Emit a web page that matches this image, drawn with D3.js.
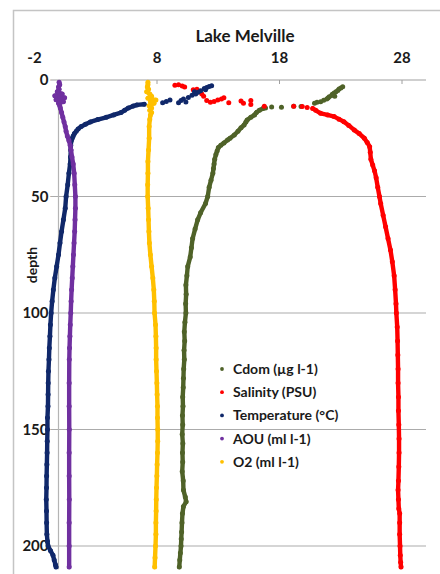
<!DOCTYPE html>
<html>
<head>
<meta charset="utf-8">
<script src="https://cdn.jsdelivr.net/npm/d3@7"></script>
<style>
  body { margin: 0; background: #fff; }
  text { font-family: Lato, "Open Sans", sans-serif; font-weight: bold; fill: #1a1a1a; }
</style>
</head>
<body>
<svg id="chart" width="440" height="574"></svg>
<script>
// values: [depth (m), value]
const xTicks = [-2, 8, 18, 28];
const depthTicks = [0, 50, 100, 150, 200];
const seriesNames = ["Cdom (µg l-1)", "Salinity (PSU)", "Temperature (°C)", "AOU (ml l-1)", "O2 (ml l-1)"];
const seriesColors = ["#4f6228", "#ff0000", "#10286a", "#7030a0", "#ffc000"];

const cdomDots = [[2.9,23.2],[3.4,23.05],[3.9,22.9],[4.5,22.8],[5.0,22.65],[5.6,22.5],[6.1,22.35],[7.0,22.55],
  [6.7,22.3],[7.2,22.1],[7.7,22.0],[8.2,21.9],[8.7,21.65],[9.3,21.4],[9.6,21.1],[10.0,20.9],
  [11.4,19.8],[11.3,19.2],[11.7,18.2],[11.6,17.4],[12.0,16.9]];
const cdomLine = [[12.2,16.7],[13,16.4],[14,16.15],[15,16.0],[16,15.7],[17.2,15.4],[18,15.3],[19.3,15.15],
  [20.5,14.9],[22,14.65],[23.6,14.35],[25,14.0],[25.8,13.8],[27,13.5],[28,13.25],[29,13.05],[30.5,12.95],
  [32,12.85],[34,12.75],[36,12.7],[38,12.65],[40,12.6],[43,12.45],[46,12.3],[50,12.18],[53,12.0],[57,11.6],
  [60,11.36],[64,11.15],[68,10.95],[72,10.85],[76,10.75],[80,10.55],[84,10.48],[88,10.4],[92,10.42],[96,10.38],
  [100,10.4],[104,10.32],[108,10.27],[112,10.3],[116,10.25],[120,10.27],[124,10.22],[128,10.2],[132,10.18],
  [136,10.14],[140,10.16],[144,10.12],[148,10.14],[152,10.1],[156,10.15],[160,10.12],[164,10.14],[168,10.1],
  [172,10.18],[176,10.2],[179,10.35],[181,10.42],[183,10.2],[186,10.12],[190,10.08],[194,10.05],[197,10.02],
  [200,10.0],[203,9.95],[206,9.9],[209,9.86]];

const salinityDots = [[2.2,9.5],[2.0,9.8],[2.6,10.1],[3.0,10.3],[4.2,11.0],[4.0,11.3],[5.0,11.4],[6.0,11.7],
  [7.0,11.85],[8.8,12.1],[9.6,12.4],[9.2,12.7],[8.6,13.0],[8.2,13.3],[7.6,13.5],[9.8,13.9],[9.0,14.9],
  [10.0,15.1],[8.8,15.7],[10.5,15.7],[11.3,16.8],[11.3,19.2],[11.4,19.9],[11.8,20.3]];
const salinityLine = [[12.2,20.75],[13,21.0],[14.3,21.4],[15,21.97],[15.7,22.5],[16.8,22.9],[17.9,23.3],
  [19.5,23.7],[21.5,24.15],[23,24.55],[25,24.97],[26.8,25.2],[28.6,25.4],[31,25.45],[34,25.5],[36.5,25.65],
  [39,25.8],[42,25.93],[46,26.06],[50,26.2],[53,26.3],[58,26.5],[63,26.7],[68,26.9],[73,27.1],[78,27.25],
  [84,27.4],[90,27.48],[96,27.55],[100,27.58],[106,27.65],[112,27.68],[118,27.7],[124,27.72],[130,27.72],
  [136,27.75],[142,27.75],[148,27.78],[154,27.8],[160,27.8],[166,27.78],[172,27.75],[176,27.72],[180,27.75],
  [184,27.78],[186,27.85],[190,27.85],[195,27.85],[200,27.88],[204,27.9],[207,27.93],[209,27.96]];

const tempDots = [[2.5,12.5],[2.8,12.3],[3.2,12.1],[3.6,11.9],[4.2,12.0],[4.6,11.6],[5.3,11.4],[5.0,11.1],
  [6.0,11.2],[6.5,10.9],[7.5,10.6],[8.2,10.2],[8.8,10.0],[9.4,10.4],[9.8,9.8],[8.6,9.1],[9.2,8.8],[9.8,8.5]];
const tempLine = [[10.4,7.0],[10.7,6.4],[11.2,6.1],[12,5.7],[13,5.4],[14,5.1],[15,4.5],[16,3.9],[17,3.2],
  [18,2.6],[19,2.2],[20,1.85],[21,1.6],[22,1.45],[23,1.3],[24,1.2],[25,1.12],[26,1.05],[28,1.0],[30,1.0],
  [33,0.98],[36,0.95],[40,0.85],[45,0.75],[50,0.62],[55,0.55],[60,0.4],[65,0.25],[70,0.12],[75,0.0],
  [80,-0.15],[85,-0.3],[90,-0.42],[95,-0.52],[100,-0.6],[105,-0.66],[110,-0.7],[115,-0.75],[120,-0.78],
  [125,-0.82],[130,-0.84],[135,-0.85],[140,-0.86],[145,-0.9],[150,-0.9],[155,-0.92],[160,-0.93],[165,-0.95],
  [170,-0.97],[175,-0.98],[180,-1.0],[185,-0.98],[190,-0.97],[195,-0.95],[198,-0.9],[200,-0.85],[202,-0.65],
  [204,-0.45],[206,-0.35],[208,-0.25],[209,-0.2]];

const aouLine = [[1,0.05],[2,0.1],[3,0.0],[4,0.05],[5,-0.1],[6,0.3],[6.8,-0.3],[7.6,0.5],[8.5,-0.2],[9.3,0.4],
  [10,0.0],[11,0.1],[12,0.15],[14,0.25],[16,0.35],[18,0.45],[20,0.55],[22,0.62],[24,0.72],[26,0.85],[28,0.95],
  [30,1.02],[33,1.1],[36,1.2],[40,1.28],[45,1.33],[50,1.38],[55,1.38],[60,1.35],[65,1.32],[70,1.27],[75,1.22],
  [80,1.17],[85,1.12],[90,1.07],[95,1.03],[100,1.0],[105,0.96],[110,0.93],[115,0.9],[120,0.88],[130,0.87],
  [140,0.87],[150,0.88],[160,0.87],[170,0.87],[180,0.88],[190,0.87],[200,0.87],[209,0.87]];

const o2Line = [[1,7.3],[2,7.3],[3,7.25],[4,7.35],[5,7.2],[6,7.45],[7,7.6],[7.8,7.3],[8.6,7.95],[9.3,7.5],
  [10,7.8],[11,7.4],[12,7.6],[13,7.45],[14,7.6],[15,7.5],[17,7.45],[20,7.4],[25,7.4],[30,7.35],[35,7.3],
  [40,7.3],[45,7.28],[50,7.28],[55,7.32],[60,7.35],[65,7.38],[70,7.42],[75,7.5],[80,7.6],[85,7.7],[90,7.78],
  [95,7.82],[100,7.84],[105,7.92],[110,7.95],[115,7.97],[120,7.97],[125,8.0],[130,8.03],[135,8.05],[140,8.08],
  [145,8.08],[150,8.1],[155,8.1],[160,8.08],[165,8.05],[170,8.03],[175,8.0],[180,7.98],[185,7.97],[190,7.95],
  [195,7.95],[200,7.92],[205,7.88],[209,7.85]];

const series = [
  { line: cdomLine, dots: cdomDots },
  { line: salinityLine, dots: salinityDots },
  { line: tempLine, dots: tempDots },
  { line: aouLine, dots: [] },
  { line: o2Line, dots: [] }
];

const svg = d3.select("#chart");

// outer chart frame
svg.append("rect")
  .attr("x", 13.5).attr("y", 10.5)
  .attr("width", 440).attr("height", 580)
  .attr("fill", "#fff")
  .attr("stroke", "#c4c4c4")
  .attr("stroke-width", 1.5);

const x = d3.scaleLinear().domain([-2, 30]).range([34, 426]);
const y = d3.scaleLinear().domain([0, 210]).range([80, 569.3]);

const gridStart = x(-2) + 9;

// horizontal gridlines
svg.append("g")
  .selectAll("line")
  .data(depthTicks.slice(1))
  .join("line")
  .attr("x1", gridStart).attr("x2", x(30))
  .attr("y1", d => y(d)).attr("y2", d => y(d))
  .attr("stroke", "#ababab")
  .attr("stroke-width", 1.2);

// top axis
const xAxis = svg.append("g")
  .attr("transform", "translate(0," + y(0) + ")")
  .call(d3.axisTop(x).tickValues(xTicks).tickFormat(d => String(d))
    .tickSizeInner(-4).tickSizeOuter(0).tickPadding(17));
xAxis.select(".domain").remove();
xAxis.selectAll(".tick line").attr("stroke", "#a0a0a0");
xAxis.selectAll(".tick").filter(d => d === -2).select("line").remove();
xAxis.selectAll("text").style("font-size", "15px").style("font-family", null);
svg.append("line")
  .attr("x1", gridStart).attr("x2", x(30))
  .attr("y1", y(0)).attr("y2", y(0))
  .attr("stroke", "#a0a0a0").attr("stroke-width", 1.2);

// vertical axis at x = 0
svg.append("line")
  .attr("x1", x(0)).attr("x2", x(0))
  .attr("y1", y(0)).attr("y2", y(210))
  .attr("stroke", "#b4b4b4").attr("stroke-width", 1.2);

const yAxis = svg.append("g")
  .attr("transform", "translate(" + x(0) + ",0)")
  .call(d3.axisLeft(y).tickValues(depthTicks).tickSize(0).tickPadding(10));
yAxis.select(".domain").remove();
yAxis.selectAll("text")
  .style("font-size", "15px").style("font-family", null)
  .attr("stroke", "#fff").attr("stroke-width", 4)
  .attr("paint-order", "stroke");

// titles
svg.append("text")
  .attr("x", 245).attr("y", 42)
  .attr("text-anchor", "middle")
  .style("font-size", "17px")
  .text("Lake Melville");

svg.append("text")
  .attr("transform", "translate(37,265) rotate(-90)")
  .attr("text-anchor", "middle")
  .style("font-size", "14px")
  .text("depth");

// series
const line = d3.line()
  .x(d => x(d[1]))
  .y(d => y(d[0]));

series.forEach((s, i) => {
  const g = svg.append("g");
  g.append("path")
    .datum(s.line)
    .attr("d", line)
    .attr("fill", "none")
    .attr("stroke", seriesColors[i])
    .attr("stroke-width", 4.4)
    .attr("stroke-linejoin", "round")
    .attr("stroke-linecap", "round");
  g.selectAll("circle")
    .data(s.line.concat(s.dots))
    .join("circle")
    .attr("cx", d => x(d[1]))
    .attr("cy", d => y(d[0]))
    .attr("r", 2.5)
    .attr("fill", seriesColors[i]);
});

// legend
const legend = svg.append("g")
  .selectAll("g")
  .data(seriesNames)
  .join("g")
  .attr("transform", (d, i) => "translate(222," + (369 + i * 23.2) + ")");
legend.append("circle")
  .attr("r", 1.9)
  .attr("fill", (d, i) => seriesColors[i]);
legend.append("text")
  .attr("x", 11).attr("dy", "0.35em")
  .style("font-size", "14px")
  .text(d => d);
</script>
</body>
</html>
